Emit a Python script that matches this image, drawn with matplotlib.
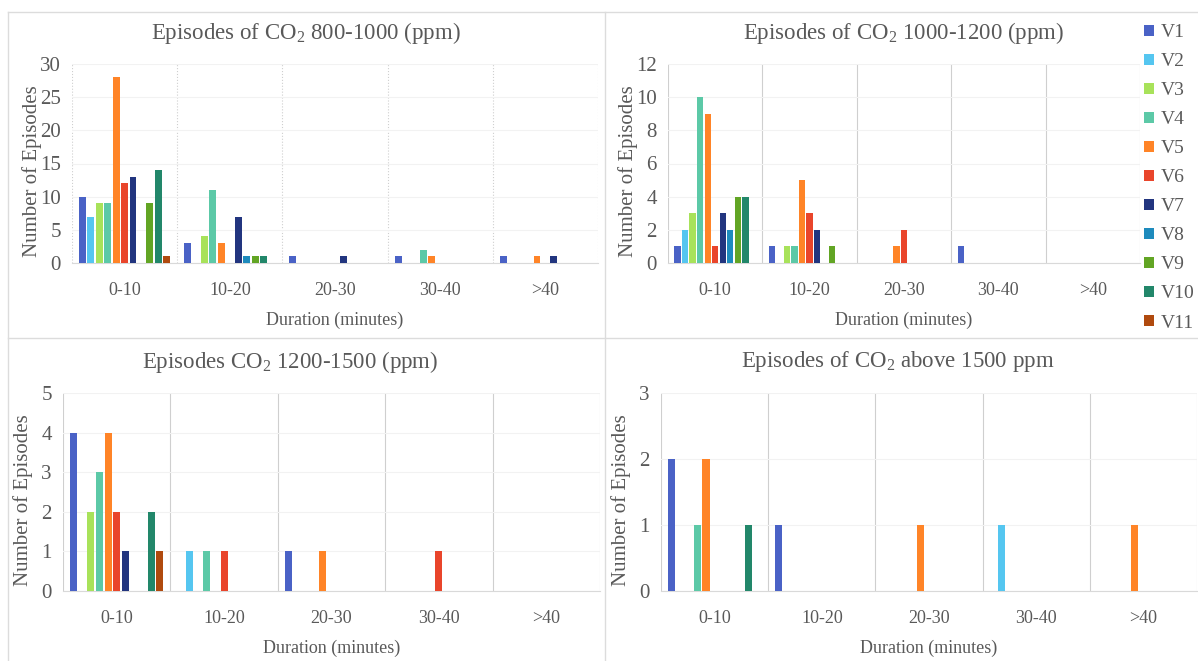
import numpy as np
import matplotlib
matplotlib.use("Agg")
import matplotlib.pyplot as plt
from matplotlib.patches import Patch
from matplotlib.lines import Line2D

plt.rcParams["font.family"] = ["Liberation Serif", "DejaVu Serif"]
plt.rcParams["mathtext.fontset"] = "custom"
plt.rcParams["mathtext.rm"] = "Liberation Serif"
plt.rcParams["mathtext.it"] = "Liberation Serif:italic"

GREY = "#595959"

categories = ["0-10", "10-20", "20-30", "30-40", ">40"]
series = ["V1", "V2", "V3", "V4", "V5", "V6", "V7", "V8", "V9", "V10", "V11"]
colors = ["#4A62C6", "#55C6F0", "#A8E25A", "#5CC9A7", "#FF8427", "#E9452B",
          "#22357F", "#1E8BBD", "#62A524", "#22876A", "#B04A0E"]

# rows = V1..V11, columns = duration categories
co2_800_1000 = [
    [10, 3, 1, 1, 1],
    [7, 0, 0, 0, 0],
    [9, 4, 0, 0, 0],
    [9, 11, 0, 2, 0],
    [28, 3, 0, 1, 1],
    [12, 0, 0, 0, 0],
    [13, 7, 1, 0, 1],
    [0, 1, 0, 0, 0],
    [9, 1, 0, 0, 0],
    [14, 1, 0, 0, 0],
    [1, 0, 0, 0, 0],
]
co2_1000_1200 = [
    [1, 1, 0, 1, 0],
    [2, 0, 0, 0, 0],
    [3, 1, 0, 0, 0],
    [10, 1, 0, 0, 0],
    [9, 5, 1, 0, 0],
    [1, 3, 2, 0, 0],
    [3, 2, 0, 0, 0],
    [2, 0, 0, 0, 0],
    [4, 1, 0, 0, 0],
    [4, 0, 0, 0, 0],
    [0, 0, 0, 0, 0],
]
co2_1200_1500 = [
    [4, 0, 1, 0, 0],
    [0, 1, 0, 0, 0],
    [2, 0, 0, 0, 0],
    [3, 1, 0, 0, 0],
    [4, 0, 1, 0, 0],
    [2, 1, 0, 1, 0],
    [1, 0, 0, 0, 0],
    [0, 0, 0, 0, 0],
    [0, 0, 0, 0, 0],
    [2, 0, 0, 0, 0],
    [1, 0, 0, 0, 0],
]
co2_above_1500 = [
    [2, 1, 0, 0, 0],
    [0, 0, 0, 1, 0],
    [0, 0, 0, 0, 0],
    [1, 0, 0, 0, 0],
    [2, 0, 1, 0, 1],
    [0, 0, 0, 0, 0],
    [0, 0, 0, 0, 0],
    [0, 0, 0, 0, 0],
    [0, 0, 0, 0, 0],
    [1, 0, 0, 0, 0],
    [0, 0, 0, 0, 0],
]

W, H = 1198, 661
fig = plt.figure(figsize=(W / 100, H / 100), dpi=100)


def px_axes(l, t, r, b):
    return fig.add_axes([l / W, 1 - b / H, (r - l) / W, (b - t) / H])


CO2 = r"CO$_{\mathregular{2}}$"
panels = [
    # data, ymax, ystep, axes box (l,t,r,b), title, title centre, grid style
    (co2_800_1000, 30, 5, (72, 64, 598, 263), f"Episodes of {CO2} 800-1000 (ppm)", (306, 33), ":"),
    (co2_1000_1200, 12, 2, (668, 64, 1140, 263), f"Episodes of {CO2} 1000-1200 (ppm)", (904, 33), "-"),
    (co2_1200_1500, 5, 1, (63, 393, 600, 591), f"Episodes {CO2} 1200-1500 (ppm)", (290, 362), "-"),
    (co2_above_1500, 3, 1, (661, 393, 1197, 591), f"Episodes of {CO2} above 1500 ppm", (898, 362), "-"),
]

step = 0.08
width = 0.066
x = np.arange(len(categories))

for data, ymax, ystep, box, title, tpos, gls in panels:
    ax = px_axes(*box)
    for i, (vals, c) in enumerate(zip(data, colors)):
        off = (i - (len(series) - 1) / 2) * step
        ax.bar(x + off, vals, width=width, color=c, zorder=3)
    ax.set_xlim(-0.5, len(categories) - 0.5)
    ax.set_ylim(0, ymax)
    ax.set_yticks(np.arange(0, ymax + 1, ystep))
    ax.set_xticks(x)
    ax.set_xticklabels(categories, fontsize=13, color=GREY)
    ax.tick_params(axis="y", labelsize=15, labelcolor=GREY, length=0, pad=8)
    ax.tick_params(axis="x", length=0, pad=14)
    for s in ["top", "right", "left"]:
        ax.spines[s].set_visible(False)
    ax.spines["bottom"].set_color("#d9d9d9")
    ax.yaxis.grid(True, color="#f2f2f2", lw=0.8, zorder=0)
    for b in np.arange(-0.5, len(categories), 1.0):
        ax.axvline(b, color="#cfcfcf", lw=0.8, ls=gls, zorder=1)
    l, t, r, b = box
    fig.text(tpos[0] / W, 1 - tpos[1] / H, title, ha="center", va="center",
             fontsize=16.5, color=GREY)
    fig.text((l - 40) / W, 1 - ((t + b) / 2 + 8) / H, "Number of Episodes",
             rotation=90, ha="center", va="center", fontsize=15, color=GREY)
    fig.text(((l + r) / 2) / W, 1 - (b + 57) / H, "Duration (minutes)",
             ha="center", va="center", fontsize=13, color=GREY)

# panel borders
for xx in [8, 605]:
    fig.add_artist(Line2D([xx / W, xx / W], [0, 1 - 12 / H], color="#dcdcdc", lw=1))
for yy in [12, 338]:
    fig.add_artist(Line2D([8 / W, 1], [1 - yy / H, 1 - yy / H], color="#dcdcdc", lw=1))

handles = [Patch(facecolor=c, label=s) for s, c in zip(series, colors)]
fig.legend(handles=handles, loc="upper left", bbox_to_anchor=(1144 / W, 1 - 24 / H),
           frameon=False, fontsize=14, handlelength=0.5, handleheight=0.5,
           handletextpad=0.35, labelspacing=0.62, labelcolor=GREY, borderaxespad=0,
           borderpad=0)

fig.savefig("out.png", dpi=100, facecolor="white")
